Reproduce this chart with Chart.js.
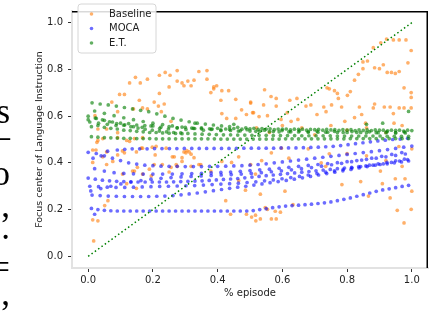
<!DOCTYPE html>
<html>
<head>
<meta charset="utf-8">
<script src="https://cdn.jsdelivr.net/npm/chart.js@4.4.1/dist/chart.umd.min.js"></script>
<style>
  html, body { margin: 0; padding: 0; background: #fff; }
  #wrap { position: relative; width: 432px; height: 312px; overflow: hidden; }
  #c { position: absolute; left: 0; top: 0; }
  #side { position: absolute; left: 0; top: 0; width: 11px; height: 312px; overflow: hidden; font-family: "Liberation Serif", serif; font-size: 35px; color: #000; }
  #side span { position: absolute; right: 1px; line-height: 1; white-space: nowrap; }
</style>
</head>
<body>
<div id="wrap">
  <canvas id="c" width="432" height="312"></canvas>
  <div id="side">
    <span style="top:94px">s</span>
    <span style="top:119px">–</span>
    <span style="top:156px">o</span>
    <span style="top:188px">’,</span>
    <span style="top:210px">.</span>
    <span style="top:250px">=</span>
    <span style="top:276px">,</span>
  </div>
</div>
<script>
// ---------- DATA ----------
const seriesNames = ["Baseline", "MOCA", "E.T."];
const xTickValues = [0, 0.2, 0.4, 0.6, 0.8, 1.0];
const yTickValues = [0, 0.2, 0.4, 0.6, 0.8, 1.0];
const diagonalX = [0, 1];
const diagonalY = [0, 1];

// Baseline (orange) scattered points [x, y]
const baselinePoints = [
  [.128,.742],[.146,.766],[.161,.742],[.183,.758],[.220,.775],[.238,.787],[.253,.775],[.275,.795],[.275,.750],[.290,.742],
  [.308,.750],[.327,.754],[.342,.791],[.367,.795],[.367,.758],[.250,.725],[.296,.730],[.318,.730],[.388,.725],[.397,.730],
  [.097,.693],[.112,.693],[.158,.668],[.220,.697],[.379,.701],[.388,.717],[.413,.709],[.434,.709],[.410,.668],[.456,.672],
  [.502,.660],[.073,.660],[.140,.631],[.168,.635],[.217,.643],[.413,.611],[.428,.590],[.456,.590],[.474,.627],[.489,.607],
  [.508,.615],[.021,.602],[.204,.660],[.235,.652],[.183,.631],[.226,.619],[.091,.619],[.256,.578],[.030,.545],[.057,.545],
  [.091,.529],[.030,.496],[.045,.504],[.119,.496],[.143,.504],[.168,.508],[.112,.443],[.168,.463],[.198,.467],[.266,.426],
  [.229,.393],[.256,.381],[.275,.385],[.143,.365],[.195,.344],[.119,.311],[.149,.291],
  [.014,.455],[.024,.455],[.027,.488],[.091,.508],[.128,.492],[.164,.463],[.210,.471],[.057,.447],[.045,.426],[.057,.393],
  [.076,.406],[.091,.434],[.106,.451],[.149,.447],[.207,.434],[.241,.463],[.260,.426],[.290,.422],[.302,.443],[.327,.422],
  [.342,.393],[.014,.402],[.106,.352],[.137,.365],[.152,.381],[.168,.352],[.189,.373],[.204,.393],[.250,.361],[.272,.393],
  [.290,.406],[.318,.385],[.348,.393],[.379,.365],[.413,.406],[.443,.402],[.465,.426],[.502,.393],[.465,.324],[.486,.283],
  [.425,.238],[.440,.180],[.489,.180],[.505,.168],[.061,.238],[.051,.217],[.014,.156],[.030,.152],[.017,.066],
  [.296,.447],[.305,.452],[.312,.447],[.318,.437],
  [.545,.713],[.565,.684],[.581,.676],[.623,.668],[.645,.676],[.688,.648],[.738,.721],[.745,.717],[.761,.709],[.770,.697],
  [.773,.676],[.801,.689],[.810,.705],[.823,.754],[.835,.779],[.849,.803],[.863,.836],[.885,.807],[.900,.803],[.912,.820],
  [.924,.787],[.937,.787],[.949,.783],[.961,.791],[.976,.721],[.988,.828],[.998,.881],[.998,.701],[.998,.680],[.881,.893],
  [.904,.914],[.922,.930],[.943,.926],[.961,.926],[.982,.926],[.849,.832],
  [.502,.656],[.511,.615],[.528,.598],[.542,.648],[.554,.602],[.581,.643],[.615,.615],[.627,.578],[.673,.643],[.707,.607],
  [.728,.639],[.735,.619],[.752,.648],[.783,.639],[.823,.594],[.838,.639],[.845,.607],[.881,.635],[.885,.652],[.915,.639],
  [.933,.639],[.943,.611],[.961,.635],[.976,.635],[.998,.635],[.596,.586],[.648,.586],[.793,.578],[.857,.570],[.945,.570],
  [.566,.443],[.536,.410],[.517,.352],[.597,.463],[.745,.439],[.734,.385],[.903,.365],[.970,.385],[.784,.307],[.842,.320],
  [.909,.311],[.979,.332],[.949,.332],[1.0,.279],[.866,.258],[.933,.250],[.608,.279],[.532,.266],[.633,.221],[.578,.193],
  [.566,.160],[.581,.160],[.517,.176],[.532,.160],[.518,.152],[.547,.209],[.554,.201],[.594,.189],[.955,.197],[.976,.143],
  [.998,.201],
  [.52,.55],[.56,.53],[.60,.56],[.66,.55],[.70,.52],[.75,.56],[.80,.54],[.86,.55],[.92,.53],[.97,.56],
  [.62,.42],[.68,.46],[.72,.40],[.80,.44],[.86,.43],[.92,.41],[.96,.47],[1.0,.46]
];

// x positions of frames for the individual episodes
const XA = [.01,.03,.05,.07,.09,.11,.13,.15,.17,.19,.21,.23,.25,.27,.29,.31,.33,.35,.37,.39,.41,.43,.45,.47,.49,.51,.53,.55,.57,.59,.61,.63,.65,.67,.69,.71,.73,.75,.77,.79,.81,.83,.85,.87,.89,.91,.93,.95,.97,.99];
const XB = [0,.025,.05,.075,.1,.125,.15,.175,.2,.225,.25,.275,.3,.325,.35,.375,.4,.425,.45,.475,.5,.525,.55,.575,.6,.625,.65,.675,.7,.725,.75,.775,.8,.825,.85,.875,.9,.925,.95,.975,1];
const XC = [.02,.05,.08,.11,.14,.17,.2,.23,.26,.29,.32,.35,.38,.41,.44,.47,.5,.53,.56,.59,.62,.65,.68,.71,.74,.77,.8,.83,.86,.89,.92,.95,.98];
const XD = [0,.022,.044,.066,.088,.11,.132,.154,.176,.198,.22,.242,.264,.286,.308,.33,.352,.374,.396,.418,.44,.462,.484,.506,.528,.55,.572,.594,.616,.638,.66,.682,.704,.726,.748,.77,.792,.814,.836,.858,.88,.902,.924,.946,.968,.99];
const XE = [.09,.113,.136,.159,.182,.205,.228,.251,.274,.297,.32,.343,.366,.389,.412,.435,.458,.481,.504,.527,.55,.573,.596,.619,.642,.665,.688,.711,.734,.757,.78,.803,.826,.849,.872,.895,.918,.941,.964,.987];
const XF = [.012,.037,.062,.087,.112,.137,.162,.187,.212,.237,.262,.287,.312,.337,.362,.387,.412,.437,.462,.487,.512,.537,.562,.587,.612,.637,.662,.687,.712,.737,.762,.787,.812,.837,.862,.887,.912,.937,.962,.987];
const XG = [.005,.032,.059,.086,.113,.14,.167,.194,.221,.248,.275,.302,.329,.356,.383,.41,.437,.464,.491,.518,.545,.572,.599,.626,.653,.68,.707,.734,.761,.788,.815,.842,.869,.896,.923,.95,.977];
const XH = [.008,.039,.07,.101,.132,.163,.194,.225,.256,.287,.318,.349,.38,.411,.442,.473,.504,.535,.566,.597,.628,.659,.69,.721,.752,.783,.814,.845,.876,.907,.938,.969];
const XS = [.01,.03,.05,.07,.09,.11,.13,.15,.17,.19,.21,.23,.25,.27,.29];

// MOCA (blue) episodes
const mocaB1 = [.455,.458,.46,.46,.46,.461,.461,.461,.461,.462,.462,.462,.462,.462,.462,.462,.462,.463,.463,.463,.463,.463,.464,.464,.464,.465,.466,.467,.469,.471,.474,.478,.482,.486,.49,.494,.497,.5,.502,.505];
const mocaB2 = [.445,.44,.43,.42,.41,.40,.395,.39,.388,.386,.385,.385,.384,.384,.384,.385,.385,.386,.387,.388,.39,.393,.396,.40,.404,.408,.412,.416,.42,.424,.428,.432,.436,.44,.444,.448,.452,.457,.462,.467,.472];
const mocaB3 = [.375,.365,.358,.355,.353,.352,.352,.352,.352,.353,.354,.355,.357,.359,.361,.364,.367,.37,.373,.377,.381,.385,.389,.393,.397,.401,.405,.41,.415,.42,.426,.432,.438];
const mocaB4 = [.335,.33,.326,.323,.321,.32,.319,.318,.318,.318,.318,.318,.319,.32,.321,.322,.323,.325,.327,.329,.331,.333,.336,.339,.342,.345,.348,.351,.354,.357,.36,.363,.366,.369,.372,.375,.378,.381,.384,.387,.39,.393,.396,.40,.404,.408];
const mocaB5 = [.30,.298,.296,.295,.295,.296,.297,.298,.299,.30,.301,.302,.303,.305,.307,.309,.311,.313,.316,.319,.323,.327,.332,.337,.342,.348,.354,.36,.366,.372,.378,.384,.39,.396,.402,.409,.416];
const mocaB6 = [.262,.26,.258,.257,.256,.256,.256,.256,.257,.258,.26,.263,.267,.271,.276,.281,.286,.291,.296,.30,.305,.31,.315,.32,.325,.33,.336,.342,.348,.354,.36,.366,.372,.378,.384,.39,.396,.402,.408,.414];
const mocaB7 = [.205,.2,.197,.195,.194,.194,.194,.194,.194,.194,.194,.194,.194,.194,.194,.194,.194,.194,.194,.194,.194,.194,.194,.194,.194,.196,.200,.204,.208,.212,.215,.217,.219,.221,.223,.226,.229,.233,.238,.244,.25,.257,.264,.271,.278,.284,.289,.294,.299,.304];
const mocaB8 = [.28,.29,.30,.31,.318,.324,.33,.334,.337,.34,.342,.344,.346,.348,.35,.352,.355,.358,.362,.366,.37,.375,.38,.386,.392,.398,.405,.412,.42,.428,.436,.444];
const mocaExtra = [[.02,.18],[.015,.42],[.04,.43],[.06,.45]];

// E.T. (green) episodes
const etG1 = [.657,.652,.648,.643,.637,.631,.625,.619,.61,.60,.59,.583,.576,.57,.566,.562,.558,.555,.552,.55,.548,.547,.546,.545,.545,.544,.544,.543,.543,.543,.542,.542,.542,.541,.541,.541,.54,.54,.54,.54];
const etG2 = [.622,.612,.602,.593,.585,.577,.57,.564,.558,.553,.549,.546,.543,.541,.539,.537,.536,.535,.534,.533,.533,.532,.532,.531,.531,.53,.53,.53,.529,.529,.529,.528,.528];
const etG3 = [.60,.592,.584,.576,.568,.561,.555,.549,.544,.54,.536,.533,.53,.528,.526,.524,.523,.522,.521,.52,.52,.519,.519,.518,.518,.518,.517,.517,.517,.517,.516,.516,.516,.516,.516,.515,.515,.515,.515,.515,.515,.515,.514,.514,.514,.514];
const etG4 = [.585,.59,.582,.575,.57,.568,.562,.56,.558,.553,.555,.55,.552,.548,.55,.546,.548,.545,.547,.544,.546,.543,.545,.542,.544,.541,.543,.54,.542,.54,.541,.539,.54,.538,.539,.538,.54,.537,.539,.536,.538];
const etG5 = [.512,.51,.508,.507,.506,.505,.505,.504,.504,.504,.503,.503,.503,.503,.503,.503,.503,.503,.503,.503,.502,.502,.502,.502,.502,.502,.502,.502,.502,.502,.503,.503,.503,.503,.503,.503,.503,.503,.503,.503,.504,.504,.504,.504,.504,.504,.504,.504,.504,.504];
const etG6 = [.575,.57,.565,.56,.563,.555,.552,.558,.548,.545,.55,.543,.547,.54,.545,.538,.543,.536,.542,.535,.54,.534,.538,.533,.537,.532,.536,.531,.535,.53,.534,.53,.533,.529,.533,.529,.532];
const etG7 = [.555,.56,.552,.548,.545,.54,.538,.535,.533,.53,.53,.528,.527,.526,.525];
const etExtra = [[.99,.62],[.91,.57],[.86,.565],[.45,.565],[.33,.57]];

// ---------- BUILD ----------
function pair(xs, ys) { const out = []; const n = Math.min(xs.length, ys.length); for (let i = 0; i < n; i++) out.push({x: xs[i], y: ys[i]}); return out; }
function fromPairs(p) { return p.map(a => ({x: a[0], y: a[1]})); }

const baselineData = fromPairs(baselinePoints);
const mocaData = [].concat(
  pair(XE, mocaB1), pair(XB, mocaB2), pair(XC, mocaB3), pair(XD, mocaB4),
  pair(XG, mocaB5), pair(XF, mocaB6), pair(XA, mocaB7), pair(XH, mocaB8), fromPairs(mocaExtra));
const etData = [].concat(
  pair(XF, etG1), pair(XC, etG2), pair(XD, etG3), pair(XB, etG4),
  pair(XA, etG5), pair(XG, etG6), pair(XS, etG7), fromPairs(etExtra));
const diagData = pair(diagonalX, diagonalY);

const COLORS = {
  baseline: 'rgba(255,127,14,0.62)',
  moca: 'rgba(10,10,255,0.6)',
  et: 'rgba(10,130,10,0.64)',
  diag: '#008000'
};

const framePlugin = {
  id: 'frame',
  afterDraw(chart) {
    const ctx = chart.ctx;
    const a = chart.chartArea;
    ctx.save();
    // top & right spines (dark)
    ctx.strokeStyle = '#000';
    ctx.lineWidth = 1.5;
    ctx.beginPath();
    ctx.moveTo(a.left, a.top + 0.75);
    ctx.lineTo(a.right - 0.75, a.top + 0.75);
    ctx.lineTo(a.right - 0.75, a.bottom);
    ctx.stroke();
    // legend
    const lx = 78, ly = 4, lw = 78, lh = 49, r = 3;
    ctx.beginPath();
    ctx.moveTo(lx + r, ly);
    ctx.lineTo(lx + lw - r, ly); ctx.quadraticCurveTo(lx + lw, ly, lx + lw, ly + r);
    ctx.lineTo(lx + lw, ly + lh - r); ctx.quadraticCurveTo(lx + lw, ly + lh, lx + lw - r, ly + lh);
    ctx.lineTo(lx + r, ly + lh); ctx.quadraticCurveTo(lx, ly + lh, lx, ly + lh - r);
    ctx.lineTo(lx, ly + r); ctx.quadraticCurveTo(lx, ly, lx + r, ly);
    ctx.closePath();
    ctx.fillStyle = 'rgba(255,255,255,0.85)';
    ctx.fill();
    ctx.strokeStyle = '#d6d6d6';
    ctx.lineWidth = 1;
    ctx.stroke();
    const rows = [14, 28.5, 43];
    ctx.font = '10px "DejaVu Sans"';
    ctx.textBaseline = 'middle';
    ctx.textAlign = 'left';
    chart.data.datasets.filter(d => d.inLegend).forEach((d, i) => {
      ctx.fillStyle = d.backgroundColor;
      ctx.beginPath();
      ctx.arc(91.5, rows[i], 1.8, 0, Math.PI * 2);
      ctx.fill();
      ctx.fillStyle = '#222';
      ctx.fillText(d.label, 109, rows[i]);
    });
    ctx.restore();
  }
};

new Chart(document.getElementById('c'), {
  type: 'scatter',
  data: {
    datasets: [
      { type: 'line', label: 'diag', data: diagData, borderColor: COLORS.diag, borderWidth: 1.5,
        borderDash: [1.5, 2.6], pointRadius: 0, showLine: true, fill: false, order: 0, inLegend: false },
      { label: seriesNames[0], data: baselineData, backgroundColor: COLORS.baseline, pointRadius: 1.85,
        borderWidth: 0, order: 3, inLegend: true },
      { label: seriesNames[1], data: mocaData, backgroundColor: COLORS.moca, pointRadius: 1.85,
        borderWidth: 0, order: 2, inLegend: true },
      { label: seriesNames[2], data: etData, backgroundColor: COLORS.et, pointRadius: 1.85,
        borderWidth: 0, order: 1, inLegend: true }
    ]
  },
  options: {
    responsive: false,
    animation: false,
    devicePixelRatio: 1,
    layout: { padding: { left: 0, right: 1, top: 0, bottom: 0 } },
    plugins: { legend: { display: false }, tooltip: { enabled: false } },
    scales: {
      x: {
        type: 'linear', min: -0.05, max: 1.05,
        afterBuildTicks: s => { s.ticks = xTickValues.map(v => ({ value: v })); },
        afterFit: s => { s.height = 44; },
        ticks: { callback: v => Number(v).toFixed(1), color: '#222', padding: 2, maxRotation: 0, autoSkip: false,
                 font: { family: 'DejaVu Sans', size: 10 } },
        grid: { drawOnChartArea: false, drawTicks: true, tickLength: 4, tickColor: '#333', tickWidth: 1 },
        border: { display: true, color: '#e2e2e2', width: 2 },
        title: { display: true, text: '% episode', color: '#222', padding: { top: 0, bottom: 13 },
                 font: { family: 'DejaVu Sans', size: 10 } }
      },
      y: {
        type: 'linear', min: -0.05, max: 1.05,
        afterBuildTicks: s => { s.ticks = yTickValues.map(v => ({ value: v })); },
        afterFit: s => { s.width = 72; },
        ticks: { callback: v => Number(v).toFixed(1), color: '#222', padding: 5, autoSkip: false,
                 font: { family: 'DejaVu Sans', size: 10 } },
        grid: { drawOnChartArea: false, drawTicks: true, tickLength: 4, tickColor: '#333', tickWidth: 1 },
        border: { display: true, color: '#e2e2e2', width: 2 },
        title: { display: true, text: 'Focus center of Language Instruction', color: '#222',
                 padding: { top: 34, bottom: 0 }, font: { family: 'DejaVu Sans', size: 9.5 } }
      }
    }
  },
  plugins: [framePlugin]
});
</script>
</body>
</html>
